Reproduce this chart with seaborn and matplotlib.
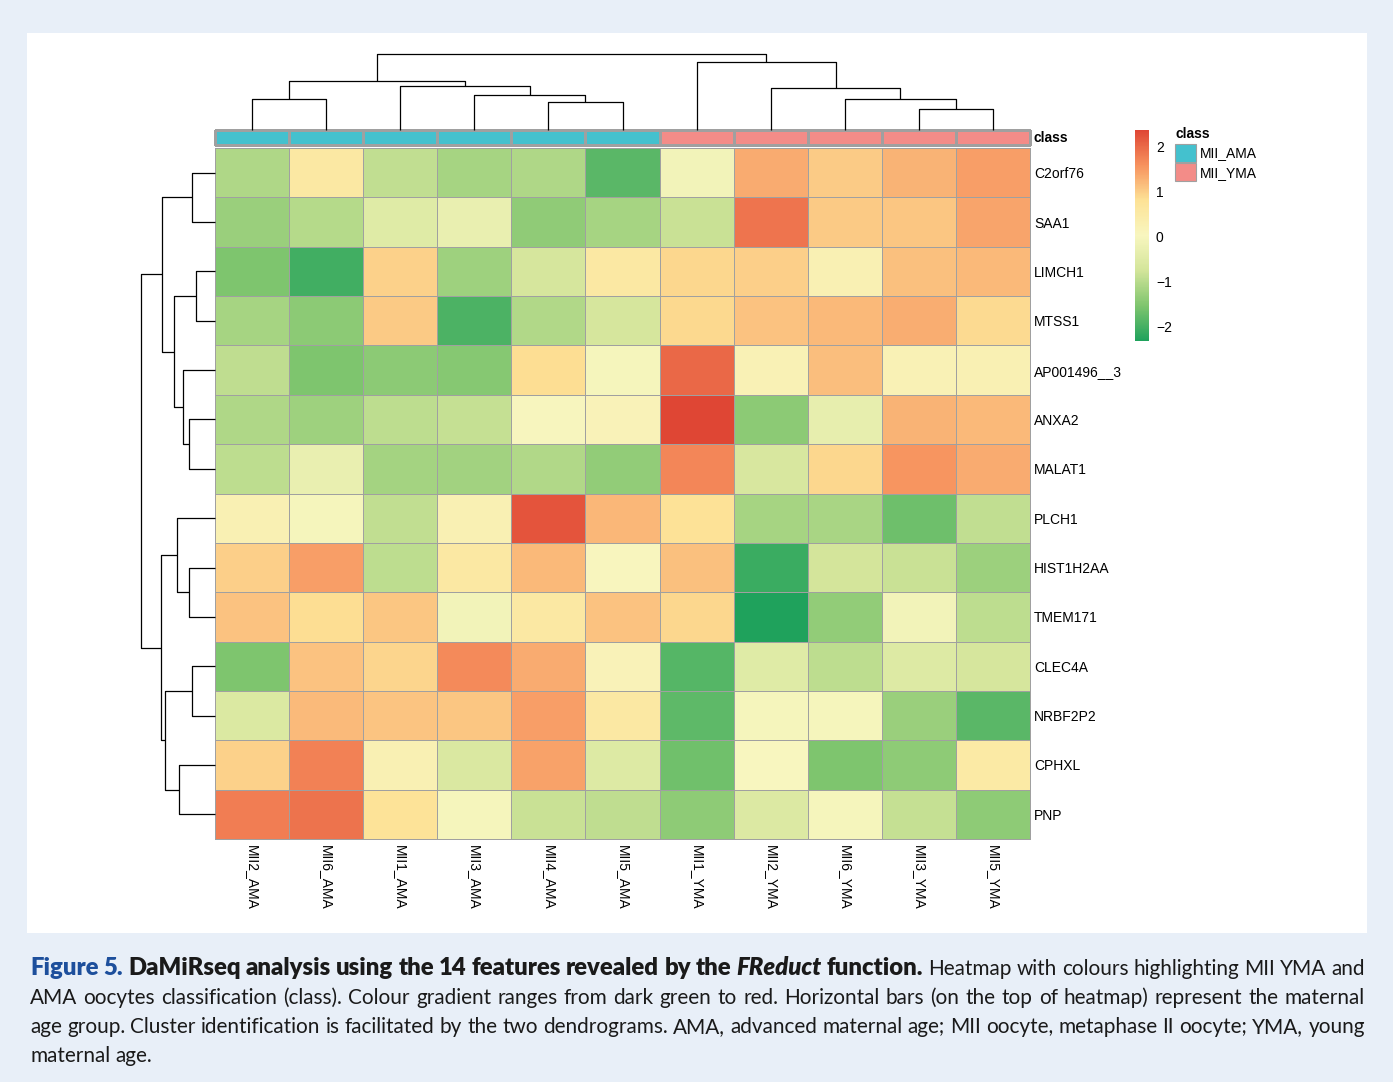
import numpy as np
import pandas as pd
import matplotlib
matplotlib.use("Agg")
import matplotlib.pyplot as plt
import seaborn as sns
from matplotlib.colors import LinearSegmentedColormap, ListedColormap
from matplotlib.patches import Rectangle, Patch
from matplotlib.collections import LineCollection

# ---------------- data ----------------
genes = ["C2orf76", "SAA1", "LIMCH1", "MTSS1", "AP001496__3", "ANXA2", "MALAT1",
         "PLCH1", "HIST1H2AA", "TMEM171", "CLEC4A", "NRBF2P2", "CPHXL", "PNP"]
samples = ["MII2_AMA", "MII6_AMA", "MII1_AMA", "MII3_AMA", "MII4_AMA", "MII5_AMA",
           "MII1_YMA", "MII2_YMA", "MII6_YMA", "MII3_YMA", "MII5_YMA"]
sample_class = ["MII_AMA"] * 6 + ["MII_YMA"] * 5
class_names = ["MII_AMA", "MII_YMA"]

zscores = [
    [-1.10, 0.55, -0.92, -1.18, -1.10, -1.85, -0.10, 1.32, 1.02, 1.25, 1.45],   # C2orf76
    [-1.30, -1.04, -0.50, -0.30, -1.39, -1.18, -0.85, 1.88, 1.03, 1.06, 1.40],  # SAA1
    [-1.55, -2.05, 0.96, -1.25, -0.70, 0.55, 0.90, 0.97, 0.25, 1.13, 1.20],     # LIMCH1
    [-1.18, -1.42, 1.04, -1.95, -1.07, -0.70, 0.88, 1.11, 1.20, 1.30, 0.87],    # MTSS1
    [-0.95, -1.55, -1.43, -1.47, 0.83, -0.05, 2.00, 0.20, 1.15, 0.20, 0.25],    # AP001496__3
    [-1.10, -1.25, -0.97, -0.90, -0.02, 0.15, 2.36, -1.42, -0.35, 1.25, 1.20],  # ANXA2
    [-0.97, -0.30, -1.20, -1.22, -1.08, -1.37, 1.70, -0.65, 0.90, 1.55, 1.32],  # MALAT1
    [0.25, -0.05, -0.92, 0.25, 2.20, 1.22, 0.78, -1.18, -1.15, -1.68, -0.92],   # PLCH1
    [0.97, 1.45, -0.97, 0.55, 1.20, 0.05, 1.13, -2.10, -0.75, -0.85, -1.28],    # HIST1H2AA
    [1.10, 0.83, 1.06, -0.10, 0.55, 1.10, 0.90, -2.33, -1.37, -0.10, -0.97],    # TMEM171
    [-1.55, 1.10, 0.92, 1.65, 1.32, 0.15, -1.88, -0.50, -0.97, -0.55, -0.70],   # CLEC4A
    [-0.60, 1.17, 1.08, 1.06, 1.45, 0.55, -1.80, -0.05, -0.05, -1.30, -1.85],   # NRBF2P2
    [0.95, 1.75, 0.25, -0.62, 1.42, -0.55, -1.66, 0.00, -1.55, -1.40, 0.50],    # CPHXL
    [1.78, 1.90, 0.75, -0.05, -0.85, -0.95, -1.40, -0.58, -0.05, -0.90, -1.40], # PNP
]

# hierarchical clustering merges: (left, right, merge height); leaves = index in display order
col_tree = (((0, 1, 0.403), (2, (3, (4, 5, 0.367), 0.456), 0.575), 0.650),
            (6, (7, (8, (9, 10, 0.274), 0.403), 0.549), 0.894), 1.0)
row_tree = (((0, 1, 0.315), ((2, 3, 0.261), (4, (5, 6, 0.347), 0.428), 0.554), 0.716),
            ((7, (8, 9, 0.347), 0.514), ((10, 11, 0.315), (12, 13, 0.482), 0.676), 0.734), 1.0)

cbar_ticks = [-2, -1, 0, 1, 2]

caption_lines = [
    [("Figure 5.", "blue"),
     ("DaMiRseq analysis using the 14 features revealed by the", "bold"),
     ("FReduct", "bolditalic"), ("function.", "bold"),
     ("Heatmap with colours highlighting MII YMA and", "regular")],
    [("AMA oocytes classification (class). Colour gradient ranges from dark green to red. "
      "Horizontal bars (on the top of heatmap) represent the maternal", "regular")],
    [("age group. Cluster identification is facilitated by the two dendrograms. AMA, advanced "
      "maternal age; MII oocyte, metaphase II oocyte; YMA, young", "regular")],
    [("maternal age.", "regular")],
]

# ---------------- style ----------------
palette = ["#1fa25c", "#7fc56e", "#d3e59a", "#f8f6bf", "#fde296", "#f7925e", "#df4634"]
class_colors = {"MII_AMA": "#44c1ce", "MII_YMA": "#f38c88"}
grid_col = "#a0a0a0"
plt.rcParams["font.family"] = ["Liberation Sans", "DejaVu Sans"]

W, H = 1393, 1082
fig = plt.figure(figsize=(W / 100, H / 100), dpi=100, facecolor="#e8eff8")


def rect(l, t, r, b):
    return [l / W, 1 - b / H, (r - l) / W, (b - t) / H]


fig.add_artist(Rectangle((27 / W, 1 - 933 / H), 1340 / W, 900 / H, transform=fig.transFigure,
                         facecolor="white", edgecolor="none", zorder=-1))

# ---------------- main heatmap ----------------
df = pd.DataFrame(zscores, index=genes, columns=samples)
cmap = LinearSegmentedColormap.from_list("grn_red", palette, N=256)
ax = fig.add_axes(rect(215, 148, 1030, 839))
sns.heatmap(df, ax=ax, cmap=cmap, vmin=df.values.min(), vmax=df.values.max(), cbar=False,
            linewidths=0.7, linecolor=grid_col, xticklabels=True, yticklabels=True)
ax.collections[0].set_clip_on(False)
ax.yaxis.tick_right()
ax.tick_params(axis="both", length=0, labelsize=10)
ax.tick_params(axis="y", pad=3, labelrotation=0)
ax.tick_params(axis="x", pad=4)
for t in ax.get_xticklabels():
    t.set_rotation(270)
    t.set_ha("center")
    t.set_va("top")
ax.set_xlabel("")
ax.set_ylabel("")

# ---------------- class annotation bar ----------------
cls_ax = fig.add_axes(rect(215, 130, 1030, 145))
cls_df = pd.DataFrame([[class_names.index(c) for c in sample_class]], columns=samples)
sns.heatmap(cls_df, ax=cls_ax, cmap=ListedColormap([class_colors[c] for c in class_names]),
            vmin=-0.5, vmax=1.5, cbar=False, linewidths=0.9, linecolor=grid_col,
            xticklabels=False, yticklabels=False)
cls_ax.collections[0].set_clip_on(False)
fig.text(1034 / W, 1 - 138 / H, "class", fontsize=10, fontweight="bold", va="center", ha="left")


# ---------------- dendrograms ----------------
def layout(node):
    if isinstance(node, int):
        return node + 0.5, 0.0, []
    left, right, h = node
    xl, hl, sl = layout(left)
    xr, hr, sr = layout(right)
    return (xl + xr) / 2, h, sl + sr + [[(xl, hl), (xl, h), (xr, h), (xr, hr)]]


_, col_root, col_segs = layout(col_tree)
dax = fig.add_axes(rect(215, 54, 1030, 130))
dax.add_collection(LineCollection(col_segs, colors="black", linewidths=0.9, clip_on=False))
dax.set_xlim(0, len(samples))
dax.set_ylim(0, col_root)
dax.axis("off")

_, row_root, row_segs = layout(row_tree)
rax = fig.add_axes(rect(141, 148, 215, 839))
rax.add_collection(LineCollection([[(h, y) for (y, h) in s] for s in row_segs],
                                  colors="black", linewidths=0.9, clip_on=False))
rax.set_ylim(len(genes), 0)
rax.set_xlim(row_root, 0)
rax.axis("off")

# ---------------- colour bar ----------------
cb_ax = fig.add_axes(rect(1135, 130, 1149, 341))
cb = fig.colorbar(ax.collections[0], cax=cb_ax, ticks=cbar_ticks)
cb.outline.set_visible(False)
cb_ax.tick_params(length=0, pad=5, labelsize=10)

# ---------------- legend ----------------
fig.text(1175 / W, 1 - 134 / H, "class", fontsize=10, fontweight="bold", va="center", ha="left")
handles = [Patch(facecolor=class_colors[c], edgecolor=grid_col, linewidth=0.8, label=c)
           for c in class_names]
fig.legend(handles=handles, loc="upper left",
           bbox_to_anchor=(1175 / W, 1 - 144 / H), frameon=False, fontsize=10,
           handlelength=1.5, handleheight=1.6, handletextpad=0.3, labelspacing=0.1,
           borderpad=0, borderaxespad=0)

# ---------------- caption (justified) ----------------
styles = {
    "blue": dict(fontweight="heavy", color="#1d4f9c"),
    "bold": dict(fontweight="heavy", color="#1a1a1a"),
    "bolditalic": dict(fontweight="heavy", fontstyle="italic", color="#1a1a1a"),
    "regular": dict(fontweight="normal", color="#1a1a1a"),
}
cap_family = ["Lato", "DejaVu Sans"]
renderer = fig.canvas.get_renderer()
x0, x1 = 30, 1365
baselines = [975, 1004, 1033, 1062]


def words_of(line):
    out = []
    for seg, st in line:
        out += [(w, st) for w in seg.split(" ")]
    return out


def measure(word, st, fs):
    t = fig.text(0, 0, word, fontsize=fs, family=cap_family, **styles[st])
    w = t.get_window_extent(renderer).width
    t.remove()
    return w


fs = 15.0
space = measure("a a", "regular", fs) - measure("aa", "regular", fs)
scale = 1.0
for line in caption_lines[1:-1]:
    ws = words_of(line)
    nat = sum(measure(w, st, fs) for w, st in ws) + space * 0.85 * (len(ws) - 1)
    scale = min(scale, (x1 - x0) / nat)
fs *= scale * 0.995
space = measure("a a", "regular", fs) - measure("aa", "regular", fs)

# bold run enlarged slightly so the first line sets with normal word spacing
ws1 = words_of(caption_lines[0])
bold_w = sum(measure(w, st, fs) for w, st in ws1 if st != "regular")
reg_w = sum(measure(w, st, fs) for w, st in ws1 if st == "regular")
target_bold = (x1 - x0) - reg_w - space * 0.95 * (len(ws1) - 1)
bold_scale = min(1.15, max(1.0, target_bold / bold_w))

for i, line in enumerate(caption_lines):
    ws = words_of(line)
    sizes = [fs * (bold_scale if st != "regular" else 1.0) for w, st in ws]
    widths = [measure(w, st, s) for (w, st), s in zip(ws, sizes)]
    if i < len(caption_lines) - 1 and len(ws) > 1:
        gap = ((x1 - x0) - sum(widths)) / (len(ws) - 1)
    else:
        gap = space
    x = x0
    for (w, st), wd, s in zip(ws, widths, sizes):
        fig.text(x / W, 1 - baselines[i] / H, w, fontsize=s, family=cap_family,
                 ha="left", va="baseline", **styles[st])
        x += wd + gap

fig.savefig("out.png", dpi=100, facecolor=fig.get_facecolor())
